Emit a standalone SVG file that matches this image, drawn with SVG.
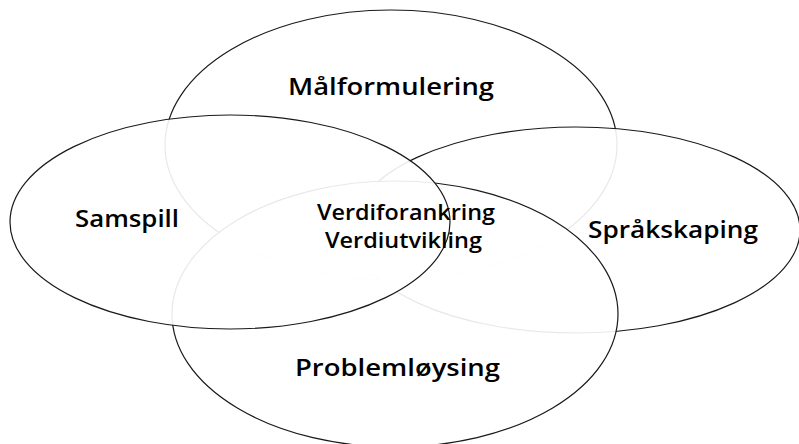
<svg xmlns="http://www.w3.org/2000/svg" width="799" height="444" viewBox="0 0 799 444">
  <style>
    .ell { fill: #ffffff; fill-opacity: 0.9; stroke: #1a1a1a; stroke-width: 1.2; }
    .lbl { font-family: "Open Sans", "Liberation Sans", sans-serif; fill: #000; font-weight: 600; }
    .big { font-size: 24px; }
    .mid { font-size: 21px; }
  </style>
  <rect x="0" y="0" width="799" height="444" fill="#ffffff"/>
  <g id="connectors"/>
  <g id="malformulering">
    <ellipse class="ell" cx="391" cy="145" rx="226" ry="135"/>
    <text class="lbl big" x="288" y="95" textLength="206" lengthAdjust="spacingAndGlyphs">Målformulering</text>
  </g>
  <g id="spraakskaping">
    <ellipse class="ell" cx="576" cy="230" rx="224" ry="103"/>
    <text class="lbl big" x="588" y="238" textLength="170" lengthAdjust="spacingAndGlyphs">Språkskaping</text>
  </g>
  <g id="problemloysing">
    <ellipse class="ell" cx="395" cy="314" rx="223" ry="133"/>
    <text class="lbl big" x="295" y="376" textLength="205" lengthAdjust="spacingAndGlyphs">Problemløysing</text>
  </g>
  <g id="samspill">
    <ellipse class="ell" cx="230" cy="222" rx="220" ry="107"/>
    <text class="lbl big" x="75" y="227" textLength="104" lengthAdjust="spacingAndGlyphs">Samspill</text>
  </g>
  <g id="verdi">
    <text class="lbl mid" x="317" y="220" textLength="178" lengthAdjust="spacingAndGlyphs">Verdiforankring</text>
    <text class="lbl mid" x="325" y="248" textLength="157" lengthAdjust="spacingAndGlyphs">Verdiutvikling</text>
  </g>
</svg>
